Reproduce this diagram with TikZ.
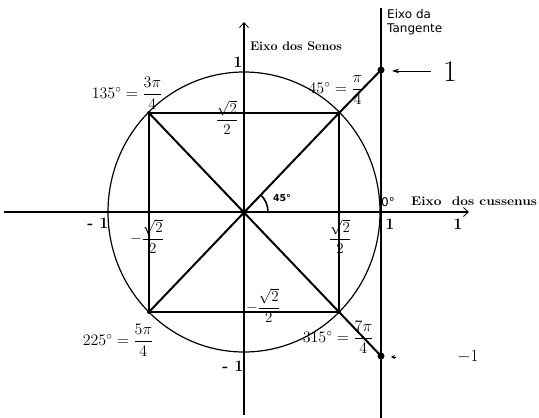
\RequirePackage{fix-cm}
\documentclass[tikz,border=0pt]{standalone}
\usepackage{amsmath}
\usepackage{fontspec}
\newfontfamily\sansf{DejaVu Sans}
\usetikzlibrary{arrows.meta}
\begin{document}
\begin{tikzpicture}[x=1pt,y=-1pt,
  thinl/.style={line width=1.2pt},
  medl/.style={line width=1.6pt},
  thickl/.style={line width=2pt},
  lab/.style={inner sep=0pt, font=\fontsize{16}{18}\selectfont},
  frl/.style={inner sep=0pt, font=\fontsize{15}{17}\selectfont},
  axl/.style={inner sep=0pt, font=\fontsize{16}{18}\selectfont\bfseries},
  sansl/.style={inner sep=0pt, font=\fontsize{12}{14}\selectfont\sansf, align=left},
  dotm/.style={circle, fill, inner sep=0pt, minimum size=7pt},
  cdot/.style={circle, fill, inner sep=0pt, minimum size=4pt},
  barb/.style={-{Straight Barb[length=5pt,width=9pt,line width=0.8pt]}},
]
\useasboundingbox (0,0) rectangle (539,418);
% key points
\coordinate (O) at (244,212);
\coordinate (A) at (339,113);
\coordinate (B) at (149,113);
\coordinate (C) at (149,312);
\coordinate (D) at (339,312);
\coordinate (xl) at (4,212);
\coordinate (xr) at (469,212);
\coordinate (yb) at (244,415);
\coordinate (yt) at (244,22);
\coordinate (tt) at (381,8);
\coordinate (tb) at (381,418);
% axes
\draw[medl,barb] (xl) -- (xr);
\draw[thinl,barb] (yb) -- (yt);
% circle and square
\draw[thinl] (O) ellipse [x radius=136pt, y radius=140pt];
\draw[thinl] (A) -- (B) -- (C) -- (D) -- cycle;
% tangent axis
\draw[line width=2.6pt] (tt) -- (tb);
\node[dotm] (T1) at (381,70) {};
\node[dotm] (T2) at (381,356) {};
% diagonals
\draw[thickl] (B) -- (D);
\draw[thickl] (C) -- (A);
\draw[thickl] (A) -- (T1.center);
\draw[thickl] (D) -- (T2.center);
\foreach \p in {A,B,C,D} \node[cdot] at (\p) {};
% 45 degree arc
\draw[medl] ([xshift=24pt]O) arc[start angle=0, end angle=45, radius=24pt];
% arrows on tangent axis
\coordinate (arS) at (431,71);
\coordinate (arE) at (392,71);
\draw[line width=0.9pt,-{Stealth[length=7pt,width=4.5pt]}] (arS) -- (arE);
\coordinate (abS) at (396,357);
\coordinate (abE) at (391,357);
\draw[line width=0.6pt,-{Stealth[length=4pt,width=4pt]}] (abS) -- (abE);
% angle labels
\node[lab] (l135) at (127,93) {$135^\circ = \dfrac{3\pi}{4}$};
\node[lab] (l45) at (336,90) {$45^\circ = \dfrac{\pi}{4}$};
\node[lab] (l225) at (118,340) {$225^\circ = \dfrac{5\pi}{4}$};
\node[lab] (l315) at (338,337) {$315^\circ = \dfrac{7\pi}{4}$};
% sqrt2/2 labels
\node[frl] (s1) at (227,117) {$\dfrac{\sqrt{2}}{2}$};
\node[frl] (s2) at (147,236) {$-\dfrac{\sqrt{2}}{2}$};
\node[frl] (s3) at (340,236) {$\dfrac{\sqrt{2}}{2}$};
\node[frl] (s4) at (263,305) {$-\dfrac{\sqrt{2}}{2}$};
% axis labels
\node[axl] (m1x) at (98,223) {- 1};
\node[axl] (m1y) at (233,366) {- 1};
\node[axl] (p1y) at (238,62) {1};
\node[axl] (p1x) at (390,224) {1};
\node[axl] (p1r) at (458,224) {1};
\node[axl, font=\fontsize{12.5}{14}\selectfont\bfseries] (senos) at (296,46) {Eixo dos Senos};
\node[axl, anchor=west, font=\fontsize{12.5}{14}\selectfont\bfseries] (cos) at (411,201) {\scalebox{1.1}[1]{Eixo\ \ dos cussenus}};
\node[sansl, anchor=north west] (tang) at (387,9) {Eixo da\\Tangente};
\node[sansl] (zero) at (388,202) {0°};
\node[inner sep=0pt, font=\fontsize{9.5}{11}\selectfont\sansf\bfseries] (a45) at (282,198) {45°};
\node[inner sep=0pt, font=\fontsize{30}{32}\selectfont] (big1) at (450,72) {1};
\node[inner sep=0pt, font=\fontsize{17}{19}\selectfont] (m1b) at (468,357) {$-1$};
\end{tikzpicture}
\end{document}
